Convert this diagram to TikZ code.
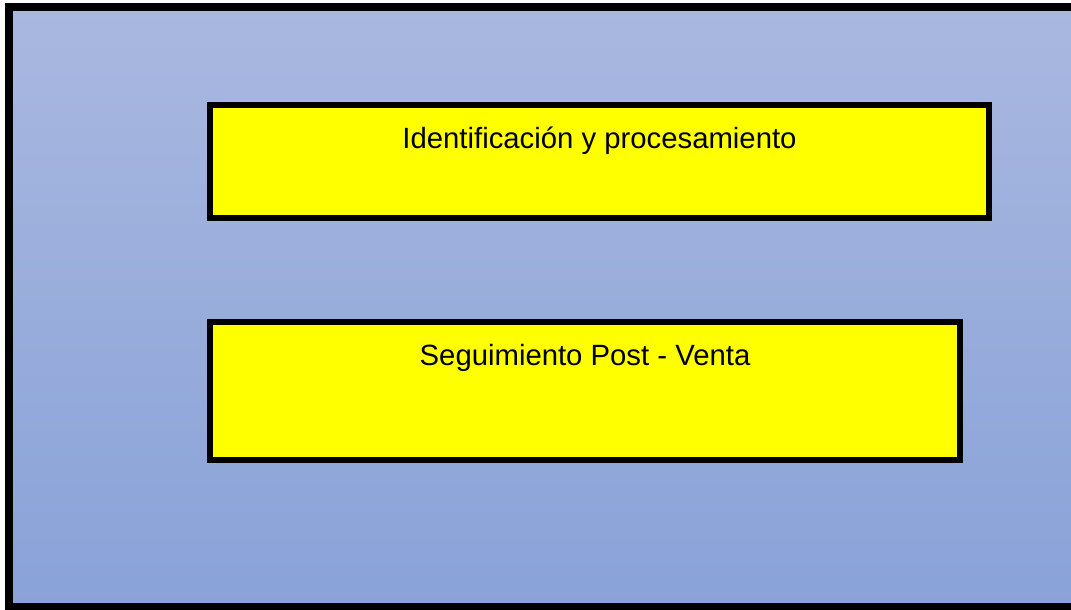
\documentclass[tikz,border=0pt]{standalone}
\usepackage{fontspec}
\setmainfont{Liberation Sans}
\usepackage{tikz}
\usetikzlibrary{positioning}
\definecolor{paneltop}{RGB}{169,184,224}
\definecolor{panelbottom}{RGB}{137,162,216}
\definecolor{boxyellow}{RGB}{255,255,0}

\begin{document}
\begin{tikzpicture}[
    x=1pt, y=1pt,
    panel/.style={
        draw=black,
        line width=8pt,
        top color=paneltop,
        bottom color=panelbottom,
    },
    stage/.style={
        rectangle,
        draw=black,
        line width=6pt,
        fill=boxyellow,
        inner sep=0pt,
        outer sep=0pt,
        anchor=north west,
        font=\fontsize{29.3}{35}\selectfont,
        text height=43pt,
    }
]
\useasboundingbox (0,0) rectangle (1071,-610);
\path[panel] (9,-7) rectangle (1076,-607);

\node[stage, minimum width=779pt, minimum height=113pt, text depth=70pt] (Ident) at (210,-105) {Identificación y procesamiento};
\node[stage, minimum width=750pt, minimum height=138pt, text depth=94pt, below=104pt of Ident.south west, anchor=north west] (Seg) {Seguimiento Post - Venta};
\end{tikzpicture}
\end{document}
